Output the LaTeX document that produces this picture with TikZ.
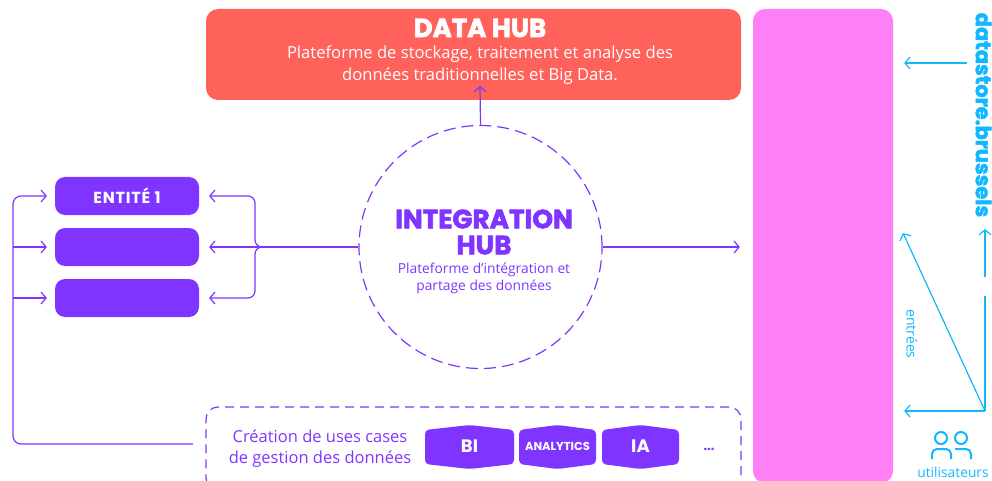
\documentclass[tikz,border=0pt]{standalone}
\usepackage{fontspec}
\setmainfont{Open Sans}
\newfontfamily\heavyfont[FakeBold=2.4]{Poppins Bold}
\newfontfamily\boldfont{Poppins Bold}
\newfontfamily\spacedfont[LetterSpace=5]{Poppins Bold}
\usetikzlibrary{arrows.meta,positioning}

\definecolor{violet}{HTML}{7F35FF}
\definecolor{coral}{HTML}{FF615B}
\definecolor{rose}{HTML}{FF80F6}
\definecolor{azur}{HTML}{12B8FF}

\tikzset{
  barb/.tip={Straight Barb[length=5pt,width=12pt,line width=1.2pt]},
  link/.style={draw=violet,line width=1.2pt,-barb},
  feed/.style={draw=azur,line width=1.2pt,-barb},
  entity/.style={fill=violet,rounded corners=10pt,minimum width=144pt,minimum height=38pt,
                 inner sep=0pt,text=white,font=\spacedfont\fontsize{16}{18}\selectfont},
  panel/.style={rounded corners=12pt,inner sep=0pt},
  label/.style={inner sep=0pt,align=center}
}

\begin{document}
\begin{tikzpicture}[x=1pt,y=-1pt]
  \useasboundingbox (0,0) rectangle (992,481);

  \node[panel,fill=coral,minimum width=535pt,minimum height=91pt] (DH) at (473.5,54.5) {};
  \node[panel,fill=rose,minimum width=140pt,minimum height=474pt] (PK) at (823,246) {};
  \node[circle,draw=violet,line width=1.2pt,dash pattern=on 12pt off 6pt,
        minimum size=243pt,inner sep=0pt] (IH) at (480.5,247) {};
  \node[panel,draw=violet,line width=1.2pt,dash pattern=on 9pt off 6pt,
        minimum width=535pt,minimum height=83pt] (UC) at (473.5,448.5) {};

  \node[entity] (E1) at (127,196) {ENTITÉ 1};
  \node[entity] (E2) at (127,247) {};
  \node[entity] (E3) at (127,298) {};

  % textes
  \node[label,text=white,font=\heavyfont\fontsize{26}{28}\selectfont] (DHtitle) at (480,28) {DATA HUB};
  \node[label,text=white,font=\fontsize{16.6}{22}\selectfont] (DHtext) at (480,65)
    {Plateforme de stockage, traitement et analyse des\\données traditionnelles et Big Data.};
  \node[label,text=violet,font=\heavyfont\fontsize{26.3}{26}\selectfont] (IHtitle) at (484,232)
    {INTEGRATION\\HUB};
  \node[label,text=violet,font=\fontsize{13.8}{17}\selectfont] (IHtext) at (484,278)
    {Plateforme d’intégration et\\partage des données};
  \node[label,text=violet,font=\fontsize{16.5}{21}\selectfont] (UCtext) at (320,449)
    {Création de uses cases\\de gestion des données};

  % cas d'usage
  \foreach \name/\cx/\hw/\lab/\size in {BI/469.5/44.5/BI/18,AN/557.5/38.5/ANALYTICS/11.5,IA/640.5/38.5/IA/18}{
    \fill[violet,rounded corners=4pt] (\cx-\hw,430) -- (\cx,425) -- (\cx+\hw,430)
      -- (\cx+\hw,464) -- (\cx,469) -- (\cx-\hw,464) -- cycle;
    \node[label,text=white,font=\boldfont\fontsize{\size}{18}\selectfont] (\name) at (\cx,446) {\lab};
  }
  \node[label,text=violet,font=\boldfont\fontsize{13}{15}\selectfont] (dots) at (709,449) {...};

  \node[label,text=azur,rotate=-90,font=\heavyfont\fontsize{21}{22}\selectfont] (DS) at (983.5,115) {datastore.brussels};
  \node[label,text=azur,rotate=-90,font=\fontsize{14}{16}\selectfont] (IN) at (912,334) {entrées};
  \node[label,text=azur,font=\fontsize{13.8}{15}\selectfont] (UT) at (953,472) {utilisateurs};

  % icone utilisateurs
  \draw[azur,line width=2pt] (941,438) circle (6pt) (961,438) circle (6pt);
  \draw[azur,line width=2pt,rounded corners=5pt] (932,459) -- (932,449) -- (951,449) -- (951,459);
  \draw[azur,line width=2pt,rounded corners=5pt] (955,449) -- (971,449) -- (971,459);

  \coordinate (split) at (277,247);
  \coordinate (fork) at (255,247);
  \coordinate (bus) at (13,444);
  \coordinate (busout) at (193,444);
  \coordinate (DHin) at (480,86);
  \coordinate (DSout) at (967,63);
  \coordinate (U) at (985,411);
  \coordinate (Uup) at (985,296);
  \coordinate (Uupb) at (985,277);
  \coordinate (Uend) at (985,229);
  \coordinate (Udiag) at (903,233);

  % connexions
  \draw[link] (IH.north) -- (DHin);
  \draw[link,shorten >=13pt] (IH.east) -- (IH.east -| PK.west);
  \draw[link,shorten >=10pt] (IH.west) -- (E2.east);
  \draw[link,shorten >=10pt,rounded corners=7pt] (split) -- (fork) |- (E1.east);
  \draw[link,shorten >=10pt,rounded corners=7pt] (split) -- (fork) |- (E3.east);

  \draw[link,shorten >=8pt,rounded corners=8pt] (busout) -- (bus) |- (E1.west);
  \draw[link,shorten >=8pt] (bus |- E2.west) -- (E2.west);
  \draw[link,shorten >=8pt] (bus |- E3.west) -- (E3.west);

  \draw[feed,shorten >=11pt] (DSout) -- (DSout -| PK.east);
  \draw[feed,shorten >=11pt] (U) -- (U -| PK.east);
  \draw[feed] (U) -- (Udiag);
  \draw[feed,-] (U) -- (Uup);
  \draw[feed] (Uupb) -- (Uend);
\end{tikzpicture}
\end{document}
